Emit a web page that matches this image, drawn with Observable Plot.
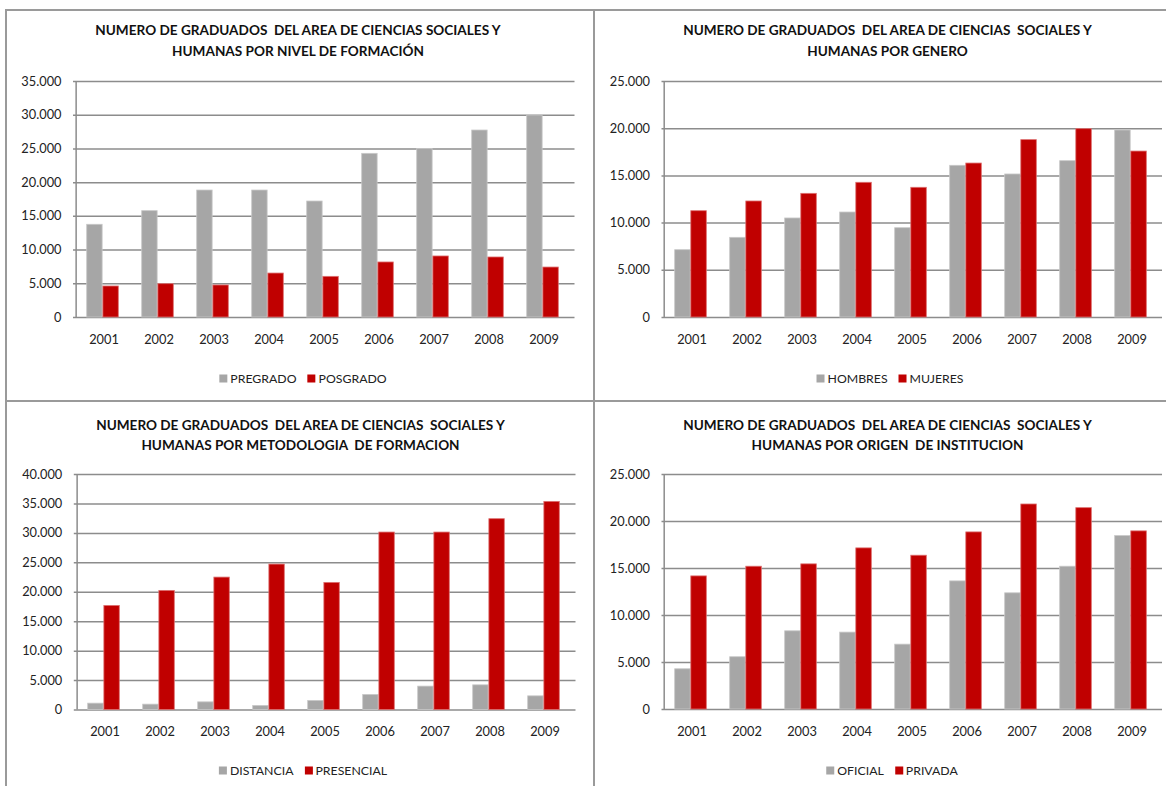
<!DOCTYPE html>
<html>
<head>
<meta charset="utf-8">
<script src="https://cdn.jsdelivr.net/npm/d3@7"></script>
<script src="https://cdn.jsdelivr.net/npm/@observablehq/plot@0.6"></script>
<style>
  html, body { margin: 0; padding: 0; background: #fff; }
  #root { position: relative; width: 1166px; height: 786px; overflow: hidden; font-family: Lato, "Open Sans", sans-serif; color: #222; }
  .line { position: absolute; background: #9a9a9a; }
  .title { position: absolute; transform: translateX(-50%); text-align: center; font-weight: bold; font-size: 13.6px; white-space: pre; color: #111; }
  .legend { position: absolute; transform: translate(-50%, -50%); display: flex; align-items: center; font-size: 12.3px; white-space: nowrap; color: #222; }
  .legend .sw { width: 8px; height: 8px; display: inline-block; margin-right: 3px; }
  .legend .item { display: flex; align-items: center; margin-right: 11px; }
  .legend .item:last-child { margin-right: 0; }
  .chart { position: absolute; }
</style>
</head>
<body>
<div id="root"></div>
<script>
// ---- data ----
const years = ["2001", "2002", "2003", "2004", "2005", "2006", "2007", "2008", "2009"];

const pregrado   = [13750, 15770, 18830, 18830, 17200, 24270, 25000, 27730, 29960];
const posgrado   = [4600, 4940, 4750, 6520, 6030, 8160, 9050, 8900, 7410];

const hombres    = [7130, 8440, 10490, 11120, 9460, 16070, 15150, 16560, 19810];
const mujeres    = [11260, 12290, 13100, 14270, 13740, 16310, 18790, 19950, 17580];

const distancia  = [1080, 910, 1300, 680, 1530, 2550, 3970, 4190, 2320];
const presencial = [17680, 20230, 22490, 24700, 21590, 30140, 30140, 32410, 35350];

const oficial    = [4280, 5560, 8320, 8180, 6900, 13630, 12360, 15190, 18450];
const privada    = [14160, 15190, 15440, 17140, 16360, 18840, 21810, 21420, 18950];

const ticks35 = [0, 5000, 10000, 15000, 20000, 25000, 30000, 35000];
const ticks25 = [0, 5000, 10000, 15000, 20000, 25000];
const ticks40 = [0, 5000, 10000, 15000, 20000, 25000, 30000, 35000, 40000];

const titleLine1a = "NUMERO DE GRADUADOS  DEL AREA DE CIENCIAS SOCIALES Y";
const titleLine1b = "NUMERO DE GRADUADOS  DEL AREA DE CIENCIAS  SOCIALES Y";
const titleNivel  = "HUMANAS POR NIVEL DE FORMACIÓN";
const titleGenero = "HUMANAS POR GENERO";
const titleMetod  = "HUMANAS POR METODOLOGIA  DE FORMACION";
const titleOrigen = "HUMANAS POR ORIGEN  DE INSTITUCION";

const namesNivel  = ["PREGRADO", "POSGRADO"];
const namesGenero = ["HOMBRES", "MUJERES"];
const namesMetod  = ["DISTANCIA", "PRESENCIAL"];
const namesOrigen = ["OFICIAL", "PRIVADA"];

const GRAY = "#a6a6a6";
const RED = "#c00000";

// ---- helpers ----
const fmt = d3.formatLocale({decimal: ",", thousands: ".", grouping: [3], currency: ["", ""]}).format(",");
const root = document.getElementById("root");

function addLine(l, t, w, h) {
  const d = document.createElement("div");
  d.className = "line";
  Object.assign(d.style, {left: l + "px", top: t + "px", width: w + "px", height: h + "px"});
  root.appendChild(d);
}

function addTitle(cx, top, lh, l1, l2) {
  const d = document.createElement("div");
  d.className = "title";
  d.style.left = cx + "px";
  d.style.top = top + "px";
  d.style.lineHeight = lh + "px";
  d.textContent = l1 + "\n" + l2;
  root.appendChild(d);
}

function addLegend(cx, cy, names) {
  const d = document.createElement("div");
  d.className = "legend";
  d.style.left = cx + "px";
  d.style.top = cy + "px";
  [GRAY, RED].forEach((c, i) => {
    const it = document.createElement("span");
    it.className = "item";
    const sw = document.createElement("span");
    sw.className = "sw";
    sw.style.background = c;
    it.appendChild(sw);
    it.appendChild(document.createTextNode(names[i]));
    d.appendChild(it);
  });
  root.appendChild(d);
}

function addChart({a, b, ticks, left, top, width, height, ml, mr, mt, mb}) {
  const rows = years.map((y, i) => ({year: y, a: a[i], b: b[i]}));
  const bw = (width - ml - mr) / years.length;
  const w = 0.29;
  const yMax = ticks[ticks.length - 1];
  const svg = Plot.plot({
    width, height,
    marginLeft: ml, marginRight: mr, marginTop: mt, marginBottom: mb,
    style: {fontFamily: "Lato, 'Open Sans', sans-serif", fontSize: "12.8px", color: "#222", background: "transparent"},
    x: {type: "band", domain: years, padding: 0, label: null, tickSize: 0, tickPadding: 17},
    y: {domain: [0, yMax], ticks: ticks, tickFormat: fmt, label: null, tickSize: 0, tickPadding: 12},
    marks: [
      Plot.ruleY(ticks, {stroke: "#8c8c8c", strokeWidth: 1.5}),
      Plot.barY(rows, {x: "year", y: "a", fill: GRAY, stroke: "#c8c8c8", strokeWidth: 0.8,
        insetLeft: bw * (0.5 - w) - 1, insetRight: bw * 0.5 + 1}),
      Plot.barY(rows, {x: "year", y: "b", fill: RED, stroke: "#dd7070", strokeWidth: 0.8,
        insetLeft: bw * 0.5 - 1, insetRight: bw * (0.5 - w) + 1}),
      Plot.ruleX([years[0]], {dx: -bw / 2, y1: 0, y2: yMax, stroke: "#8c8c8c", strokeWidth: 1.5})
    ]
  });
  svg.classList.add("chart");
  svg.style.left = left + "px";
  svg.style.top = top + "px";
  svg.style.overflow = "visible";
  root.appendChild(svg);
}

// ---- panel borders ----
addLine(5, 9, 1161, 2);     // top
addLine(5, 9, 2, 777);      // left
addLine(592.5, 9, 2, 777);  // middle vertical
addLine(5, 400, 1161, 2);   // middle horizontal

// ---- panel 1 ----
addTitle(298, 20, 21, titleLine1a, titleNivel);
addChart({a: pregrado, b: posgrado, ticks: ticks35, left: 6, top: 60, width: 588, height: 300, ml: 67, mr: 19.5, mt: 21, mb: 43});
addLegend(303, 378, namesNivel);

// ---- panel 2 ----
addTitle(887.5, 20, 21, titleLine1b, titleGenero);
addChart({a: hombres, b: mujeres, ticks: ticks25, left: 594, top: 60, width: 572, height: 300, ml: 67.5, mr: 4, mt: 21, mb: 43});
addLegend(890, 378, namesGenero);

// ---- panel 3 ----
addTitle(300.5, 414.5, 20, titleLine1b, titleMetod);
addChart({a: distancia, b: presencial, ticks: ticks40, left: 6, top: 452, width: 588, height: 300, ml: 67.8, mr: 18.5, mt: 22, mb: 42.5});
addLegend(303, 770, namesMetod);

// ---- panel 4 ----
addTitle(887.5, 414.5, 20, titleLine1b, titleOrigen);
addChart({a: oficial, b: privada, ticks: ticks25, left: 594, top: 452, width: 572, height: 300, ml: 67.5, mr: 4, mt: 22, mb: 43});
addLegend(892, 770, namesOrigen);
</script>
</body>
</html>
